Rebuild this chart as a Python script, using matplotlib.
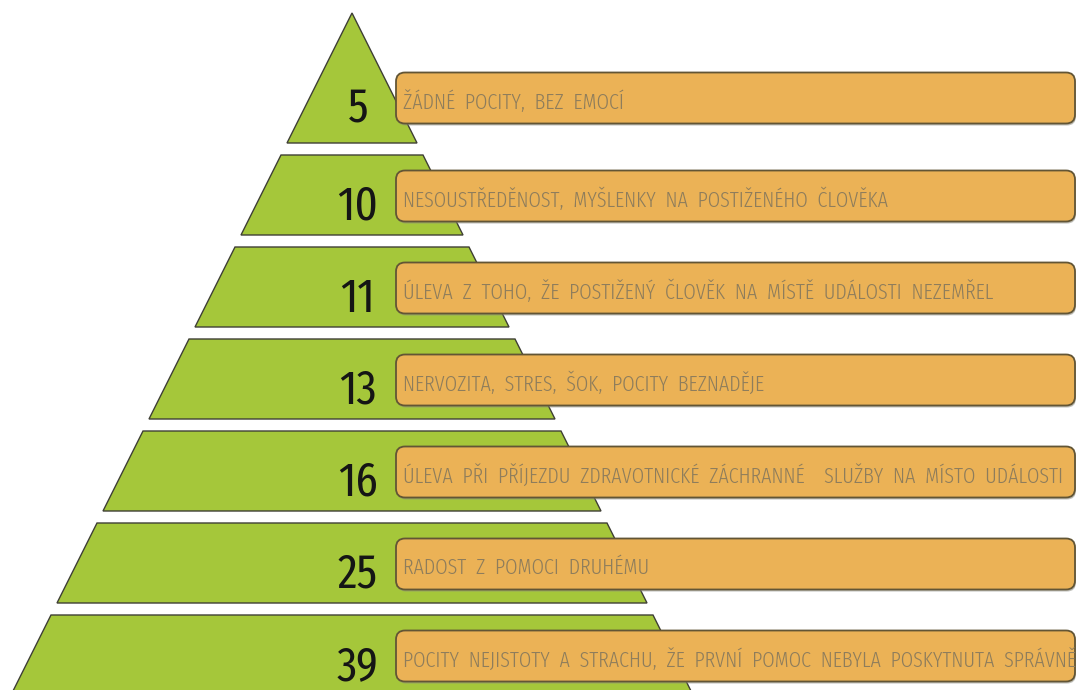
import matplotlib
matplotlib.use("Agg")
import matplotlib.pyplot as plt
from matplotlib.patches import Polygon, FancyBboxPatch

# počty odpovědí pro jednotlivé pocity (od vrcholu pyramidy)
hodnoty = [5, 10, 11, 13, 16, 25, 39]
pocity = [
    "ŽÁDNÉ  POCITY,  BEZ  EMOCÍ",
    "NESOUSTŘEDĚNOST,  MYŠLENKY  NA  POSTIŽENÉHO  ČLOVĚKA",
    "ÚLEVA  Z  TOHO,  ŽE  POSTIŽENÝ  ČLOVĚK  NA  MÍSTĚ  UDÁLOSTI  NEZEMŘEL",
    "NERVOZITA,  STRES,  ŠOK,  POCITY  BEZNADĚJE",
    "ÚLEVA  PŘI  PŘÍJEZDU  ZDRAVOTNICKÉ  ZÁCHRANNÉ    SLUŽBY  NA  MÍSTO  UDÁLOSTI",
    "RADOST  Z  POMOCI  DRUHÉMU",
    "POCITY  NEJISTOTY  A  STRACHU,  ŽE  PRVNÍ  POMOC  NEBYLA  POSKYTNUTA  SPRÁVNĚ",
]

W, H = 1076, 690
fig = plt.figure(figsize=(W / 100, H / 100), dpi=100)
ax = fig.add_axes([0, 0, 1, 1])
ax.set_xlim(0, W)
ax.set_ylim(H, 0)
ax.axis("off")

# geometrie pyramidy v pixelech
vrchol_x, vrchol_y = 352, 13
sklon = 0.5          # polovina šířky na pixel výšky
vyska_pasu = 80
mezera = 12
spicka_dole = 143

zelena = "#a5c73a"
oranzova = "#ebb256"
okraj = "#3f3f35"
uzky_font = ["Fira Sans Extra Condensed", "DejaVu Sans"]


def sirka(y):
    return sklon * (y - vrchol_y)


for i, (hod, txt) in enumerate(zip(hodnoty, pocity)):
    if i == 0:
        horni, dolni = vrchol_y, spicka_dole
        stred_boxu = 98
    else:
        horni = spicka_dole + mezera + (i - 1) * (vyska_pasu + mezera)
        dolni = horni + vyska_pasu
        stred_boxu = horni + 41

    body = [
        (vrchol_x - sirka(horni), horni),
        (vrchol_x + sirka(horni), horni),
        (vrchol_x + sirka(dolni), dolni),
        (vrchol_x - sirka(dolni), dolni),
    ]
    ax.add_patch(Polygon(body, closed=True, facecolor=zelena,
                         edgecolor=okraj, lw=1.0, zorder=1))

    # štítek s popisem pocitu (se stínem)
    box_x0, box_x1, box_h = 396, 1075, 51
    y0 = stred_boxu - box_h / 2
    ax.add_patch(FancyBboxPatch((box_x0 + 1, y0 + 2), box_x1 - box_x0, box_h,
                                boxstyle="round,pad=0,rounding_size=9",
                                facecolor="#8a8a80", edgecolor="none",
                                alpha=0.55, zorder=2))
    ax.add_patch(FancyBboxPatch((box_x0, y0), box_x1 - box_x0, box_h,
                                boxstyle="round,pad=0,rounding_size=9",
                                facecolor=oranzova, edgecolor="#625535",
                                lw=1.3, zorder=3))
    ax.text(403, stred_boxu + 4, txt, ha="left", va="center",
            fontsize=15.7, fontweight=300, color="#8e7d5c",
            family=uzky_font, zorder=4, clip_on=True)

    ax.text(358, stred_boxu + 11, str(hod), ha="center", va="center",
            fontsize=35, color="#151515", family=uzky_font, zorder=4)

fig.savefig("out.png", dpi=100, facecolor="white")
